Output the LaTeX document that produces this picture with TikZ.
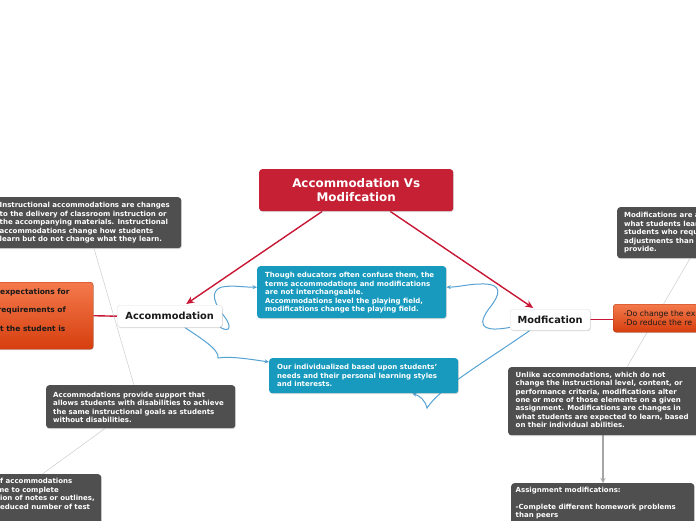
\documentclass[tikz,border=0pt]{standalone}
\usepackage{fontspec}
\setmainfont{DejaVu Sans}
\usetikzlibrary{calc,shadows,arrows.meta,backgrounds}
\definecolor{tred}{RGB}{198,32,52}
\definecolor{cred}{RGB}{200,22,52}
\definecolor{dgrey}{RGB}{79,79,79}
\definecolor{tblue}{RGB}{24,154,190}
\definecolor{cblue}{RGB}{86,162,210}
\definecolor{or1}{RGB}{244,122,76}
\definecolor{or2}{RGB}{214,62,14}
\begin{document}
\begin{tikzpicture}[x=1pt,y=-1pt,
  shbox/.style={rounded corners=3pt, anchor=north west, inner sep=0pt,
    drop shadow={opacity=0.3,shadow xshift=0.7pt,shadow yshift=-0.9pt}},
  darkbox/.style={shbox, fill=dgrey},
  bluebox/.style={shbox, fill=tblue},
  orbox/.style={shbox, top color=or1, bottom color=or2, draw=or2!85!black, line width=0.4pt},
  whitebox/.style={shbox, fill=white, draw=black!12, text=black!90,
    font=\bfseries\fontsize{9.8}{12}\selectfont},
  bodytxt/.style={anchor=north west, inner sep=0pt, align=left, text=white,
    font=\bfseries\fontsize{7}{8.45}\selectfont},
  redline/.style={draw=cred, line width=1.4pt},
  redarrow/.style={redline, -{Stealth[length=8pt,width=7pt]}},
  bluec/.style={draw=cblue, line width=1pt, -{Stealth[length=4.5pt,width=4pt]}},
  thinline/.style={draw=black!20, line width=0.5pt}
]
\useasboundingbox (0,0) rectangle (696,520);
\clip (0,0) rectangle (696,520);

% title and main topics
\node[shbox, fill=tred, text=white, align=center, minimum width=194pt, minimum height=42pt,
  font=\bfseries\fontsize{11.9}{14}\selectfont] (title) at (259,169) {Accommodation Vs\\Modifcation};
\node[whitebox, minimum width=105pt, minimum height=22pt] (acc) at (117,305) {Accommodation};
\node[whitebox, minimum width=80pt, minimum height=21pt] (mod) at (510,309) {Modfication};

% left side
\node[darkbox, minimum width=189.5pt, minimum height=51pt] (tl) at (-8.5,197) {};
\node[bodytxt] (tlt) at (-0.5,202.3) {Instructional accommodations are changes\\to the delivery of classroom instruction or\\the accompanying materials. Instructional\\accommodations change how students\\learn but do not change what they learn.};

\node[orbox, minimum width=123pt, minimum height=67pt] (lo) at (-30,282) {};
\node[bodytxt, text=black!90, font=\bfseries\fontsize{7.5}{18.5}\selectfont] (lot) at (0,288.3) {expectations for\\\hspace*{-2.5pt}requirements of\\t the student is};

\node[darkbox, minimum width=189pt, minimum height=43pt] (prov) at (46,385) {};
\node[bodytxt] (provt) at (53,391.6) {Accommodations provide support that\\allows students with disabilities to achieve\\the same instructional goals as students\\without disabilities.};

\node[darkbox, minimum width=131pt, minimum height=70pt] (bl) at (-30,474) {};
\node[bodytxt] (blt) at (0,478.3) {f accommodations\\\hspace*{-3pt}me to complete\\ion of notes or outlines,\\educed number of test};

% middle
\node[bluebox, minimum width=189pt, minimum height=52pt] (b1) at (257,266) {};
\node[bodytxt] (b1t) at (265,272.3) {Though educators often confuse them, the\\terms accommodations and modifications\\are not interchangeable.\\Accommodations level the playing field,\\modifications change the playing field.};

\node[bluebox, minimum width=189pt, minimum height=35pt] (b2) at (269,358) {};
\node[bodytxt] (b2t) at (277,364.3) {Our individualized based upon students'\\needs and their personal learning styles\\and interests.};

% right side
\node[darkbox, minimum width=100pt, minimum height=51pt] (tr) at (617,207) {};
\node[bodytxt] (trt) at (624,212.3) {Modifications are a\\what students lear\\students who requ\\adjustments than\\provide.};

\node[orbox, minimum width=100pt, minimum height=28pt] (ro) at (613,304) {};
\node[anchor=north west, inner sep=0pt, align=left, text=black!90,
  font=\fontsize{7.8}{9}\selectfont] (rot) at (623.5,310.2) {-Do change the ex\\-Do reduce the re};

\node[darkbox, minimum width=192pt, minimum height=68pt] (unl) at (508,367) {};
\node[bodytxt] (unlt) at (515.5,371.6) {Unlike accommodations, which do not\\change the instructional level, content, or\\performance criteria, modifications alter\\one or more of those elements on a given\\assignment. Modifications are changes in\\what students are expected to learn, based\\on their individual abilities.};

\node[darkbox, minimum width=183pt, minimum height=60pt] (asg) at (511,483) {};
\node[bodytxt] (asgt) at (515.5,486.6) {Assignment modifications:\\[8.45pt]-Complete different homework problems\\than peers};

% connectors
\begin{scope}[on background layer]
\clip (0,0) rectangle (696,520);
\draw[redarrow] ($(title.south)+(-34,0)$) -- ($(acc.north)+(16.5,-1)$);
\draw[redarrow] ($(title.south)+(34,0)$) -- ($(mod.north)+(-17,-1)$);
\draw[redline] (lo.east) -- (acc.west);
\draw[redline] (mod.east) -- (mod.east -| ro.west);

\draw[thinline] ($(tl.south west)+(102.5,0)$) -- ($(prov.north west)+(88,0)$);
\draw[thinline] ($(prov.south west)+(59,0)$) -- ($(bl.north east)+(-59,0)$);
\draw[thinline] ($(tr.south west)+(73,0)$) -- ($(unl.north west)+(119,0)$);
\draw[draw=black!35, line width=1.3pt, -{Stealth[length=5pt,width=5pt]}]
  ($(unl.south west)+(95,0)$) -- ($(asg.north west)+(92,0)$);

\draw[bluec] ($(acc.south east)+(-2,0)$) .. controls +(10,6) and +(8,10) .. (224,316)
  .. controls +(-8,-10) and +(-14,4) .. (222,287)
  .. controls +(12,-2) and +(-15,0) .. ($(b1.west)+(0,-5)$);
\draw[bluec] ($(acc.south)+(15,0)$) .. controls +(15,10) and +(2,-8) .. (218,358)
  .. controls +(12,-2) and +(-20,-3) .. ($(b2.north west)+(0,4)$);
\draw[bluec] ($(mod.south west)+(0,-3)$) .. controls (490,331) and (474,330) .. (488,310)
  .. controls (500,295) and (505,283) .. (480,284)
  .. controls (470,284) and (458,287) .. ($(b1.east)+(0,-5)$);
\draw[bluec] ($(mod.south west)+(20,0)$) .. controls (480,365) and (440,388) .. (427,408)
  .. controls (425,400) and (420,396) .. ($(b2.south)+(48.5,0)$);
\end{scope}
\end{tikzpicture}
\end{document}
